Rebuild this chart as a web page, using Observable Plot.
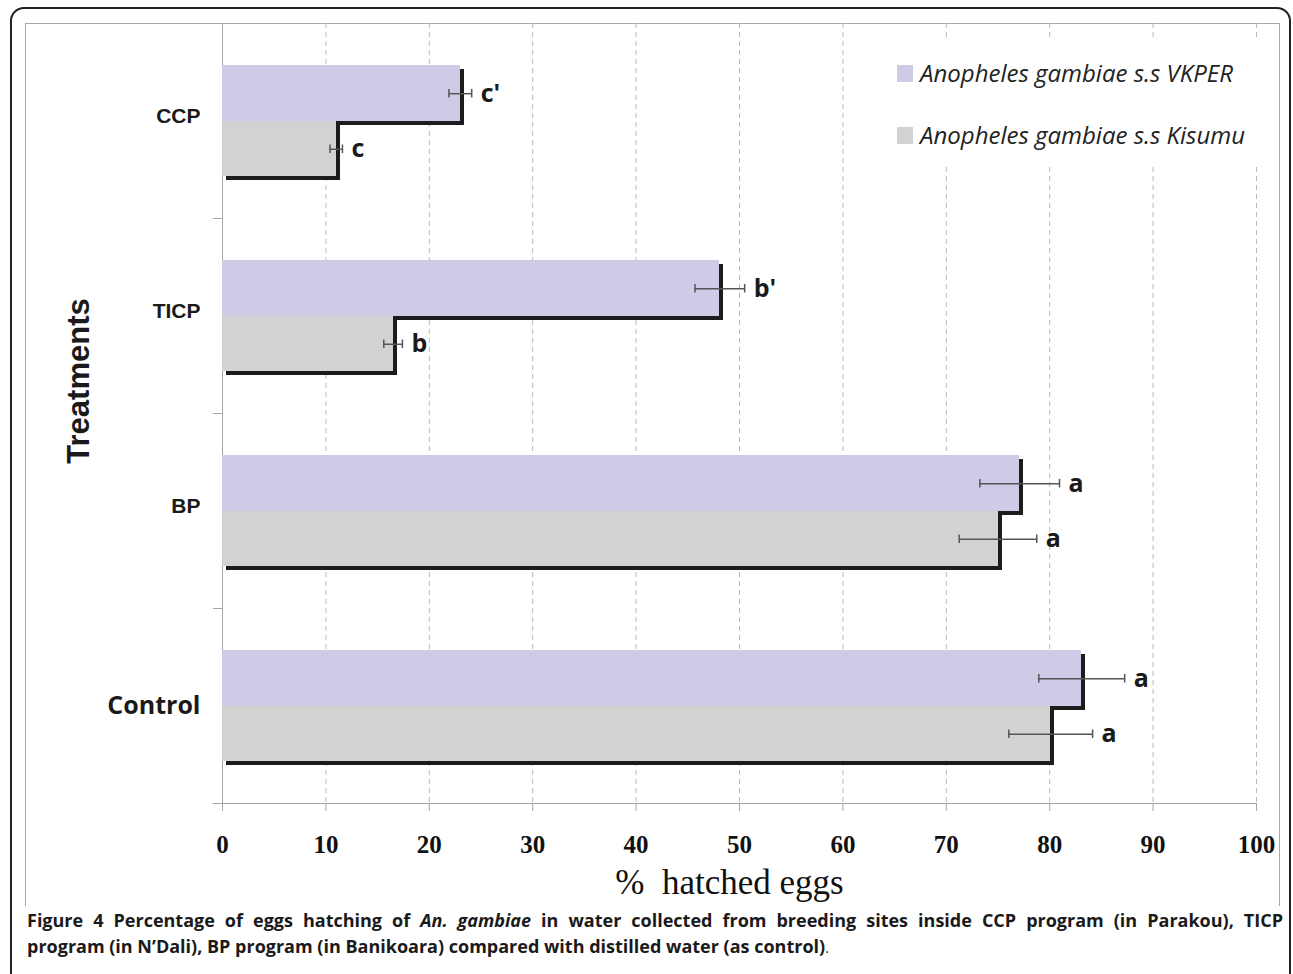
<!DOCTYPE html>
<html><head><meta charset="utf-8">
<script src="https://cdn.jsdelivr.net/npm/d3@7"></script>
<script src="https://cdn.jsdelivr.net/npm/@observablehq/plot@0.6"></script>
<style>
body{margin:0;background:#fff;}
#wrap{position:relative;width:1293px;height:974px;overflow:hidden;background:#fff;}
#frame{position:absolute;left:10px;top:7px;width:1281px;height:1000px;border:2px solid #222;border-radius:14px 14px 0 0;box-sizing:border-box;}
#inner{position:absolute;left:25px;top:23px;width:1255px;height:883px;border:1px solid #a8a8a8;border-bottom:none;box-sizing:border-box;}
#chart{position:absolute;left:0;top:0;}
#legend{position:absolute;left:882px;top:37px;width:393px;height:128px;background:#fff;font-family:"Open Sans";font-style:italic;font-size:24px;color:#222;}
.sw{position:absolute;left:15px;width:16px;height:17px;}
.lt{position:absolute;left:38px;white-space:nowrap;line-height:24px;}
#ytitle{position:absolute;left:79px;top:381px;transform:translate(-50%,-50%) rotate(-90deg);font-family:"Liberation Sans";font-weight:bold;font-size:31px;color:#1a1a1a;white-space:nowrap;}
#caption{position:absolute;left:27px;top:907px;width:1256px;font-family:"Open Sans";font-weight:bold;font-size:18px;line-height:26px;color:#1a1a1a;}
#caption .l1{text-align:justify;text-align-last:justify;white-space:nowrap;}
</style></head>
<body>
<div id="wrap">
<div id="frame"></div>
<div id="inner"></div>
<div id="chart"></div>
<div id="ytitle">Treatments</div>
<div id="legend"></div>
<div id="caption"></div>
</div>
<script>
const categories = ["CCP", "TICP", "BP", "Control"];
const seriesNames = ["Anopheles gambiae s.s VKPER", "Anopheles gambiae s.s Kisumu"];
const vkper = [23.0, 48.1, 77.1, 83.1];
const kisumu = [11.0, 16.5, 75.0, 80.1];
const vkperErr = [1.1, 2.4, 3.85, 4.15];
const kisumuErr = [0.6, 0.9, 3.75, 4.05];
const vkperLetters = ["c'", "b'", "a", "a"];
const kisumuLetters = ["c", "b", "a", "a"];
const xTicks = [0, 10, 20, 30, 40, 50, 60, 70, 80, 90, 100];
const xTitle = "%\u00a0 hatched eggs";
const yTitle = "Treatments";

const colV = "#cecbe6", colK = "#d2d2d2", shadow = "#1c1c1c", axisCol = "#a6a6a6";

const rows = categories.map((c, i) => ({c, i, v: vkper[i], k: kisumu[i], ve: vkperErr[i], ke: kisumuErr[i], vl: vkperLetters[i], kl: kisumuLetters[i]}));
const errs = rows.flatMap(d => [
  {yc: d.i + 0.36, lo: d.v - d.ve, hi: d.v + d.ve},
  {yc: d.i + 0.645, lo: d.k - d.ke, hi: d.k + d.ke}
]);
const caps = errs.flatMap(e => [{x: e.lo, yc: e.yc}, {x: e.hi, yc: e.yc}]);
const capH = 0.022;
const crisp = {shapeRendering: "crispEdges"};

const chart = Plot.plot({
  width: 1293, height: 910,
  marginLeft: 222, marginRight: 37, marginTop: 23, marginBottom: 107,
  x: {domain: [0, 100]},
  y: {domain: [0, 4], reverse: true},
  style: {background: "transparent", overflow: "visible"},
  marks: [
    Plot.ruleX(xTicks.filter(t => t > 0), {stroke: "#b8b8b8", strokeDasharray: "5,4"}),
    Plot.axisX({ticks: xTicks, tickSize: 8, tickPadding: 24, fontSize: 25, fontFamily: "Liberation Serif", fontWeight: "bold", stroke: axisCol, fill: "#111", label: null}),
    Plot.axisY({ticks: [1, 2, 3, 4], tickSize: 9, tickFormat: () => "", stroke: axisCol, label: null}),
    Plot.ruleX([0], {stroke: axisCol}),
    Plot.ruleY([4], {stroke: axisCol}),
    Plot.rect(rows, {x1: d => 0, x2: "v", y1: d => d.i + 0.215, y2: d => d.i + 0.5, fill: shadow, dx: 4, dy: 4, ...crisp}),
    Plot.rect(rows, {x1: d => 0, x2: "v", y1: d => d.i + 0.215, y2: d => d.i + 0.5, fill: colV, ...crisp}),
    Plot.rect(rows, {x1: d => 0, x2: "k", y1: d => d.i + 0.5, y2: d => d.i + 0.785, fill: shadow, dx: 4, dy: 4, ...crisp}),
    Plot.rect(rows, {x1: d => 0, x2: "k", y1: d => d.i + 0.5, y2: d => d.i + 0.785, fill: colK, ...crisp}),
    Plot.ruleY(errs, {y: "yc", x1: "lo", x2: "hi", stroke: "#555", strokeWidth: 1.5}),
    Plot.ruleX(caps, {x: "x", y1: d => d.yc - capH, y2: d => d.yc + capH, stroke: "#555", strokeWidth: 1.5}),
    Plot.text(rows, {x: d => d.v + d.ve, y: d => d.i + 0.36, text: "vl", dx: 9, textAnchor: "start", fontFamily: "Open Sans", fontWeight: "bold", fontSize: 25, fill: "#1a1a1a"}),
    Plot.text(rows, {x: d => d.k + d.ke, y: d => d.i + 0.645, text: "kl", dx: 9, textAnchor: "start", fontFamily: "Open Sans", fontWeight: "bold", fontSize: 25, fill: "#1a1a1a"}),
    Plot.text(rows.filter(d => d.c !== "Control"), {x: d => 0, y: d => d.i + 0.5, text: "c", dx: -22, dy: -5, textAnchor: "end", fontFamily: "Liberation Sans", fontWeight: "bold", fontSize: 21, fill: "#1a1a1a"}),
    Plot.text(rows.filter(d => d.c === "Control"), {x: d => 0, y: d => d.i + 0.5, text: "c", dx: -22, textAnchor: "end", fontFamily: "Open Sans", fontWeight: "bold", fontSize: 25, fill: "#1a1a1a"}),
    Plot.text([xTitle], {frameAnchor: "bottom", dy: 90, dx: -10, fontFamily: "Liberation Serif", fontSize: 35, fill: "#111"})
  ]
});
document.getElementById("chart").appendChild(chart);

const leg = document.getElementById("legend");
[[colV, 28], [colK, 90]].forEach(([c, top], j) => {
  const s = document.createElement("div"); s.className = "sw"; s.style.background = c; s.style.top = top + "px"; leg.appendChild(s);
  const t = document.createElement("div"); t.className = "lt"; t.style.top = (top - 4) + "px"; t.textContent = seriesNames[j]; leg.appendChild(t);
});

document.getElementById("caption").innerHTML =
  '<div class="l1">Figure 4 Percentage of eggs hatching of <i>An. gambiae</i> in water collected from breeding sites inside CCP program (in Parakou), TICP</div>' +
  '<div>program (in N\u2019Dali), BP program (in Banikoara) compared with distilled water (as control)<span style="font-weight:normal;font-size:14px">.</span></div>';
</script>
</body></html>
